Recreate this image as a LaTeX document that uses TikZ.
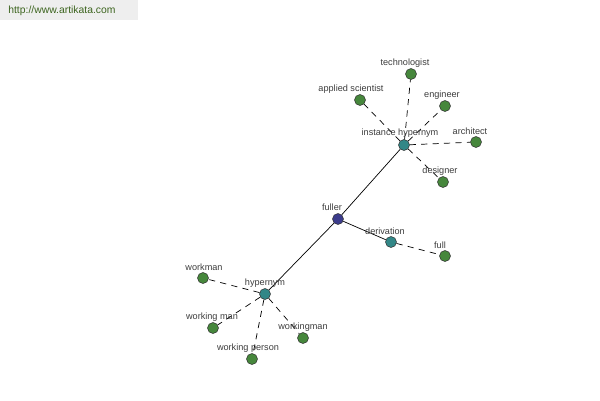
\documentclass[tikz,border=0pt]{standalone}
\usepackage{fontspec}
\setmainfont{Liberation Sans}
\usepackage{tikz}
\usetikzlibrary{positioning}
\definecolor{artgreen}{RGB}{70,135,60}
\definecolor{artteal}{RGB}{50,135,135}
\definecolor{artblue}{RGB}{60,60,140}
\definecolor{arttext}{RGB}{60,60,60}
\definecolor{urlgreen}{RGB}{60,100,30}
\definecolor{urlbg}{RGB}{238,238,238}

\begin{document}
\begin{tikzpicture}[
  x=0.02cm,y=-0.02cm,
  dot/.style={circle,draw=black!80,line width=0.3pt,minimum size=0.22cm,inner sep=0pt},
  leaf/.style={dot,fill=artgreen},
  rel/.style={dot,fill=artteal},
  head/.style={dot,fill=artblue},
  lbl/.style={font=\fontsize{5.2}{6}\selectfont,text=arttext,inner sep=0pt},
  solid edge/.style={line width=0.4pt},
  dash edge/.style={line width=0.4pt,dash pattern=on 3.5pt off 3pt}
]
\useasboundingbox (0,0) rectangle (600,400);

% site banner
\fill[urlbg] (0,0) rectangle (138,20);
\node[font=\fontsize{5.9}{7}\selectfont,text=urlgreen,anchor=west,inner sep=0pt] (url) at (8,11) {http://www.artikata.com};

% centre and relation nodes
\node[head] (fuller) at (338,219) {};
\node[rel] (inst) at (404,145) {};
\node[rel] (hyper) at (265,294) {};
\node[rel] (deriv) at (391,242) {};

% leaves
\node[leaf] (full) at (445,256) {};
\node[leaf] (techn) at (411,74) {};
\node[leaf] (appsci) at (360,100) {};
\node[leaf] (engin) at (445,106) {};
\node[leaf] (archi) at (476,142) {};
\node[leaf] (desig) at (443,182) {};
\node[leaf] (workm) at (203,278) {};
\node[leaf] (wkgman) at (213,328) {};
\node[leaf] (wkgper) at (252,359) {};
\node[leaf] (wkman) at (303,338) {};

% edges
\draw[solid edge] (fuller) -- (inst);
\draw[solid edge] (fuller) -- (hyper);
\draw[solid edge] (fuller) -- (deriv);
\draw[dash edge] (deriv) -- (full);
\foreach \n in {techn,appsci,engin,archi,desig} {
  \draw[dash edge] (inst) -- (\n);
}
\foreach \n in {workm,wkgman,wkgper,wkman} {
  \draw[dash edge] (hyper) -- (\n);
}

% labels
\node[lbl] (fuller-l) at (332,207) {fuller};
\node[lbl] (inst-l) at (400,133) {instance hypernym};
\node[lbl] (hyper-l) at (265,283) {hypernym};
\node[lbl] (deriv-l) at (385,231) {derivation};
\node[lbl] (full-l) at (440,245) {full};
\node[lbl] (techn-l) at (405,63) {technologist};
\node[lbl] (appsci-l) at (351,89) {applied scientist};
\node[lbl] (engin-l) at (442,95) {engineer};
\node[lbl] (archi-l) at (470,131) {architect};
\node[lbl] (desig-l) at (440,171) {designer};
\node[lbl] (workm-l) at (204,267) {workman};
\node[lbl] (wkgman-l) at (212,317) {working man};
\node[lbl] (wkgper-l) at (248,348) {working person};
\node[lbl] (wkman-l) at (303,327) {workingman};

\end{tikzpicture}
\end{document}
